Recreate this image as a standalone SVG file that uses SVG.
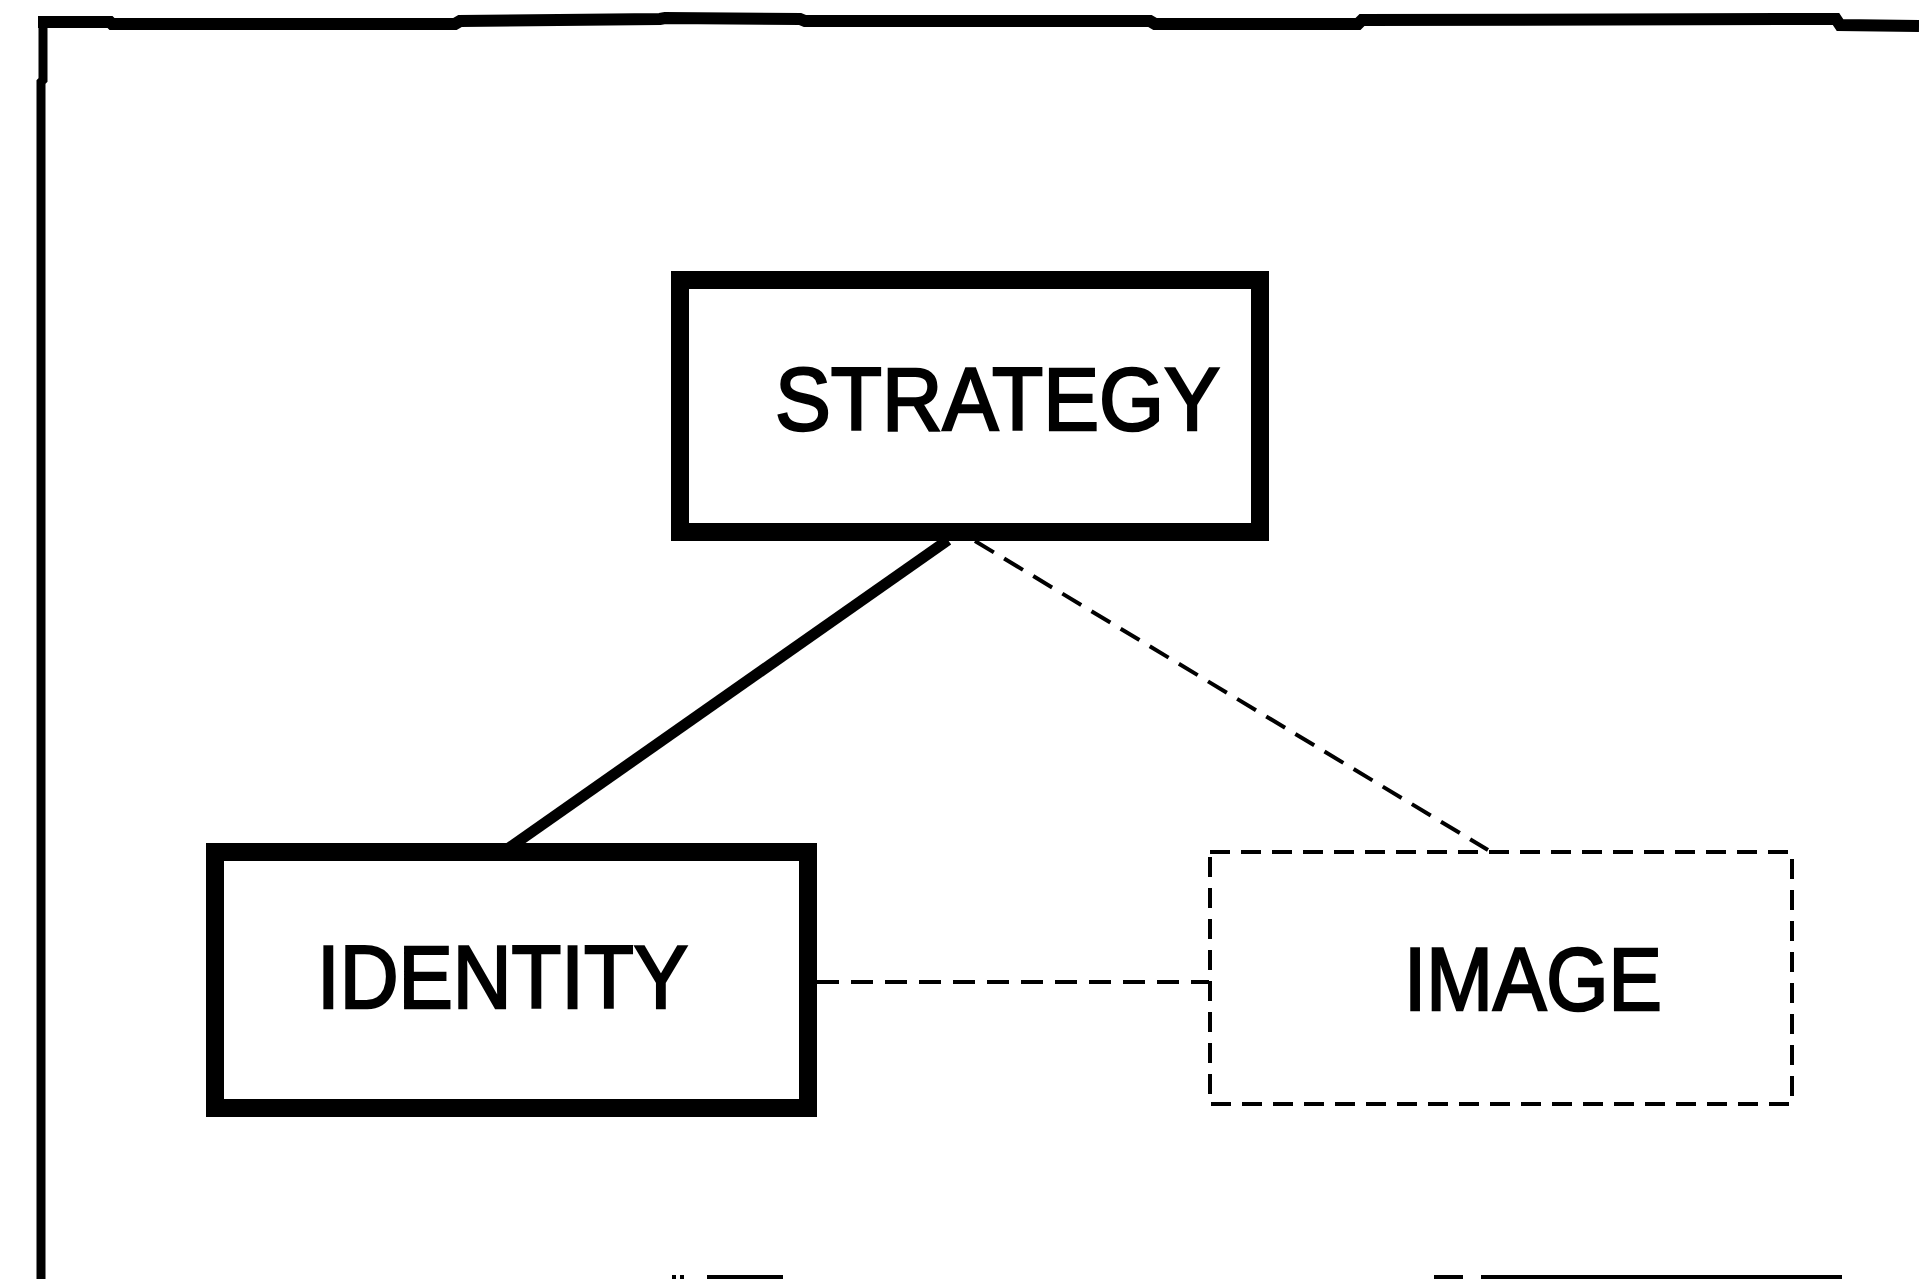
<svg xmlns="http://www.w3.org/2000/svg" width="1919" height="1279" viewBox="0 0 1919 1279">
  <style>
    .frame { fill: none; stroke: #000; stroke-width: 12; stroke-linejoin: miter; }
    .box-solid { fill: #fff; stroke: #000; stroke-width: 18; }
    .box-dashed { fill: #fff; stroke: #000; stroke-width: 4; stroke-dasharray: 20 11; }
    .label { font-family: "Liberation Sans", Arial, Helvetica, sans-serif; font-size: 89px; fill: #000; stroke: #000; stroke-width: 2.5; }
    .link-solid { stroke: #000; stroke-width: 11; stroke-linecap: butt; fill: none; }
    .link-dashed { stroke: #000; stroke-width: 4; stroke-dasharray: 22 12; fill: none; }
  </style>
  <rect width="1919" height="1279" fill="#fff"/>

  <!-- outer frame: top rule and left rule -->
  <g id="frame">
    <path class="frame" d="M 38 22 L 110 22 L 112 24 L 455 24 L 460 21 L 660 19 L 665 18 L 800 19 L 805 21 L 1150 21 L 1155 24 L 1358 24 L 1362 20 L 1836 19 L 1840 25 L 1919 26"/>
    <path d="M 43 16 L 43 80 L 41 82 L 41 1279" fill="none" stroke="#000" stroke-width="9"/>
    <!-- edges of the next row, cut off at the bottom -->
    <g stroke="#000" stroke-width="4">
      <line x1="672" y1="1277" x2="676" y2="1277"/>
      <line x1="680" y1="1277" x2="684" y2="1277"/>
      <line x1="707" y1="1277" x2="783" y2="1277"/>
      <line x1="1434" y1="1277" x2="1463" y2="1277"/>
      <line x1="1481" y1="1277" x2="1842" y2="1277"/>
    </g>
  </g>

  <!-- connectors -->
  <g id="connectors">
    <line class="link-solid" x1="948" y1="540" x2="506" y2="850"/>
    <line class="link-dashed" x1="975" y1="541" x2="1488" y2="850"/>
    <line class="link-dashed" x1="817" y1="982" x2="1209" y2="982"/>
  </g>

  <!-- STRATEGY -->
  <g id="strategy">
    <rect class="box-solid" x="680" y="280" width="580" height="252"/>
    <text class="label" x="775" y="430" textLength="445" lengthAdjust="spacingAndGlyphs">STRATEGY</text>
  </g>

  <!-- IDENTITY -->
  <g id="identity">
    <rect class="box-solid" x="215" y="852" width="593" height="256"/>
    <text class="label" x="317" y="1008" textLength="371" lengthAdjust="spacingAndGlyphs">IDENTITY</text>
  </g>

  <!-- IMAGE -->
  <g id="image">
    <rect class="box-dashed" x="1210" y="852" width="582" height="252"/>
    <text class="label" x="1404" y="1010" textLength="258" lengthAdjust="spacingAndGlyphs">IMAGE</text>
  </g>
</svg>
